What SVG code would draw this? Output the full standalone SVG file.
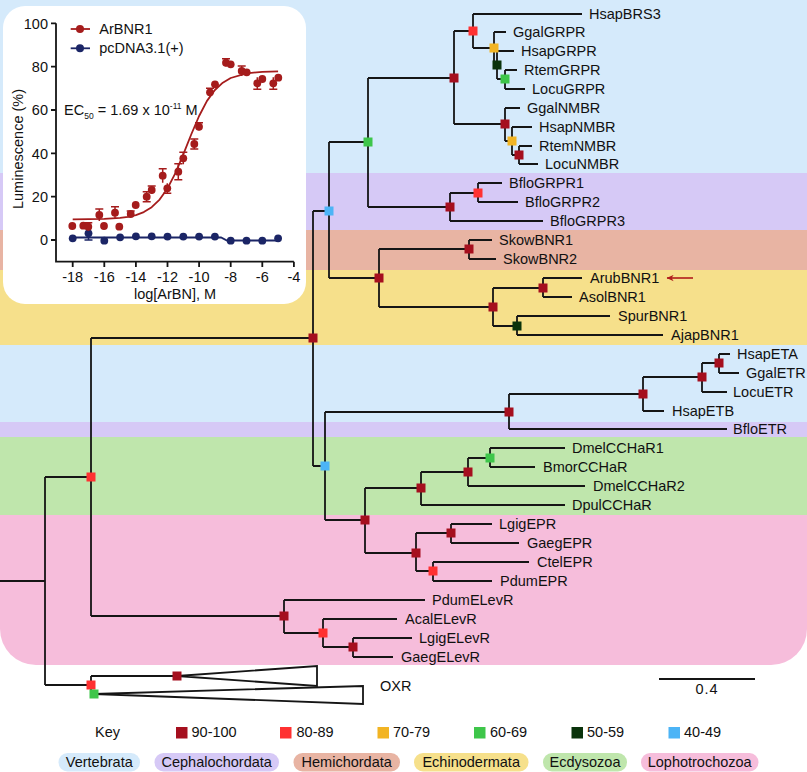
<svg xmlns="http://www.w3.org/2000/svg" width="807" height="772" viewBox="0 0 807 772">
<style>
text{font-family:"Liberation Sans",Arial,sans-serif;font-size:14.5px;fill:#111}
.br{fill:none;stroke:#151515;stroke-width:1.8}
.ax{fill:none;stroke:#151515;stroke-width:1.8}
.c90{fill:#a50f1e}.c80{fill:#ff3131}.c70{fill:#f2b423}.c60{fill:#3ec64a}.c50{fill:#0a330b}.c40{fill:#4cb4f6}
.rd{fill:#a51c1c}.bl{fill:#1b2566}
.eb{fill:none;stroke:#a51c1c;stroke-width:1.5}
.ebb{fill:none;stroke:#1b2566;stroke-width:1.5}
</style>
<defs>
<clipPath id="bgclip"><rect x="0" y="-40" width="807" height="705" rx="36"/></clipPath>
<marker id="ah" viewBox="0 0 10 10" refX="0.5" refY="5" markerWidth="10" markerHeight="7" orient="auto" markerUnits="userSpaceOnUse"><path d="M0 5 L10 0.5 L7 5 L10 9.5 Z" fill="#b01c1c"/></marker>
</defs>

<g id="bands" clip-path="url(#bgclip)">
<rect x="0" y="0" width="807" height="173" fill="#d5eafb"/>
<rect x="0" y="173" width="807" height="57" fill="#d6c9f6"/>
<rect x="0" y="230" width="807" height="40" fill="#e8b4a3"/>
<rect x="0" y="270" width="807" height="75" fill="#f6e08b"/>
<rect x="0" y="345" width="807" height="77" fill="#d5eafb"/>
<rect x="0" y="422" width="807" height="15" fill="#d6c9f6"/>
<rect x="0" y="437" width="807" height="78" fill="#bfe6ac"/>
<rect x="0" y="515" width="807" height="150" fill="#f6bddb"/>
</g>

<g id="inset">
<rect x="3" y="6" width="303" height="298" rx="22" fill="#ffffff"/>
<path class="ax" d="M56 23.3 V261.7 H293.9 M51 23.3 H56 M51 66.7 H56 M51 110 H56 M51 153.3 H56 M51 196.7 H56 M51 240 H56 M72.7 261.7 V267 M104.3 261.7 V267 M135.9 261.7 V267 M167.5 261.7 V267 M199.1 261.7 V267 M230.7 261.7 V267 M262.3 261.7 V267 M293.9 261.7 V267"/>
<g text-anchor="end">
<text x="48" y="28.5">100</text><text x="48" y="72">80</text><text x="48" y="115">60</text><text x="48" y="158.5">40</text><text x="48" y="202">20</text><text x="48" y="245">0</text>
</g>
<g text-anchor="middle">
<text x="72.7" y="282">-18</text><text x="104.3" y="282">-16</text><text x="135.9" y="282">-14</text><text x="167.5" y="282">-12</text><text x="199.1" y="282">-10</text><text x="230.7" y="282">-8</text><text x="262.3" y="282">-6</text><text x="293.9" y="282">-4</text>
<text x="175" y="299">log[ArBN], M</text>
<text transform="translate(22.5,149) rotate(-90)" font-size="13.5">Luminescence (%)</text>
</g>
<text x="64" y="115">EC<tspan font-size="8.5" dy="4">50</tspan><tspan dy="-4"> = 1.69 x 10</tspan><tspan font-size="8.5" dy="-6">-11</tspan><tspan dy="6"> M</tspan></text>
<path d="M70.7 29 H90" stroke="#a51c1c" stroke-width="1.8"/><circle class="rd" cx="80" cy="29" r="4"/>
<text x="99.3" y="34">ArBNR1</text>
<path d="M70.7 48.3 H90" stroke="#1b2566" stroke-width="1.8"/><circle class="bl" cx="80" cy="48.3" r="4"/>
<text x="99.3" y="53.3">pcDNA3.1(+)</text>
<g id="pcdna">
<path d="M72.7 237.5 H221 L227 240.5 H278.1" fill="none" stroke="#1b2566" stroke-width="1.8"/>
<path class="ebb" d="M88.5 227.5 V240 M84.5 240 H92.5"/>
<circle class="bl" cx="72.7" cy="238.3" r="3.9"/><circle class="bl" cx="88.5" cy="233.3" r="3.9"/><circle class="bl" cx="104.3" cy="240.7" r="3.9"/><circle class="bl" cx="120.1" cy="237.3" r="3.9"/><circle class="bl" cx="135.9" cy="236.3" r="3.9"/><circle class="bl" cx="151.7" cy="236.3" r="3.9"/><circle class="bl" cx="167.5" cy="236.6" r="3.9"/><circle class="bl" cx="183.3" cy="236.6" r="3.9"/><circle class="bl" cx="199.1" cy="236.6" r="3.9"/><circle class="bl" cx="214.9" cy="236.6" r="3.9"/><circle class="bl" cx="230.7" cy="240.7" r="3.9"/><circle class="bl" cx="246.5" cy="240.7" r="3.9"/><circle class="bl" cx="262.3" cy="240.7" r="3.9"/><circle class="bl" cx="278.1" cy="238.3" r="3.9"/>
</g>
<g id="arbnr1">
<path d="M72.7 219.4 L88.5 219.2 L104.3 218.9 L120.1 217.9 L128 216.8 L135.9 215.1 L143.8 212.1 L151.7 207.2 L159.6 199.6 L167.5 188.4 L175.4 173.1 L183.3 154.4 L191.2 134.5 L199.1 116 L207 100.9 L214.9 90 L222.8 82.7 L230.7 78 L246.5 73.4 L262.3 71.8 L278.1 71.3" fill="none" stroke="#a51c1c" stroke-width="1.8" stroke-linejoin="round"/>
<path class="eb" d="M99.3 209 V221 M95.3 209 H103.3 M115 206.7 V218.7 M111 206.7 H119 M130.7 211 V217 M126.7 211 H134.7 M135.7 202 V208 M146.7 191.7 V201.7 M142.7 191.7 H150.7 M142.7 201.7 H150.7 M151.7 186 V194 M147.7 186 H155.7 M162.7 168.7 V182.7 M158.7 168.7 H166.7 M167.3 183.3 V193.3 M163.3 193.3 H171.3 M178.3 163.7 V179.7 M174.3 163.7 H182.3 M174.3 179.7 H182.3 M183.3 152.3 V164.3 M179.3 152.3 H187.3 M194.3 139 V149 M190.3 139 H198.3 M190.3 149 H198.3 M199 122.7 V130.7 M195 122.7 H203 M210 88.3 V96.3 M206 88.3 H214 M215 81.3 V87.3 M226 58.7 V66.7 M222 58.7 H230 M230.7 61.3 V67.3 M241.7 66 V76 M237.7 66 H245.7 M246.7 69.3 V75.3 M257.3 77.3 V89.3 M253.3 89.3 H261.3 M262.3 76 V82 M273.3 77.3 V89.3 M269.3 89.3 H277.3 M278.3 74.7 V80.7 M83.3 222.7 V228.7 M88.3 222.7 V230.7 M84.3 222.7 H92.3"/>
<circle class="rd" cx="72.3" cy="226" r="3.9"/><circle class="rd" cx="83.3" cy="225.7" r="3.9"/><circle class="rd" cx="88.3" cy="226.7" r="3.9"/><circle class="rd" cx="99.3" cy="215" r="3.9"/><circle class="rd" cx="104" cy="226" r="3.9"/><circle class="rd" cx="115" cy="212.7" r="3.9"/><circle class="rd" cx="119.3" cy="226.7" r="3.9"/><circle class="rd" cx="130.7" cy="214" r="3.9"/><circle class="rd" cx="135.7" cy="205" r="3.9"/><circle class="rd" cx="146.7" cy="196.7" r="3.9"/><circle class="rd" cx="151.7" cy="190" r="3.9"/><circle class="rd" cx="162.7" cy="175.7" r="3.9"/><circle class="rd" cx="167.3" cy="188.3" r="3.9"/><circle class="rd" cx="178.3" cy="171.7" r="3.9"/><circle class="rd" cx="183.3" cy="158.3" r="3.9"/><circle class="rd" cx="194.3" cy="144" r="3.9"/><circle class="rd" cx="199" cy="126.7" r="3.9"/><circle class="rd" cx="210" cy="92.3" r="3.9"/><circle class="rd" cx="215" cy="84.3" r="3.9"/><circle class="rd" cx="226" cy="62.7" r="3.9"/><circle class="rd" cx="230.7" cy="64.3" r="3.9"/><circle class="rd" cx="241.7" cy="71" r="3.9"/><circle class="rd" cx="246.7" cy="72.3" r="3.9"/><circle class="rd" cx="257.3" cy="83.3" r="3.9"/><circle class="rd" cx="262.3" cy="79" r="3.9"/><circle class="rd" cx="273.3" cy="83.3" r="3.9"/><circle class="rd" cx="278.3" cy="77.7" r="3.9"/>
</g>
</g>

<g id="connectors" class="br">
<path d="M0 581 H45 M45 477 V685 M45 477 H91 M45 685 H91"/>
<path d="M91 338 V616 M91 338 H313 M91 616 H284"/>
<path d="M313 211 V466 M313 211 H329 M313 466 H325"/>
<path d="M329 142 V278 M329 142 H368 M329 278 H379"/>
<path d="M368 78 V207 M368 78 H454 M368 207 H450"/>
<path d="M454 31 V124 M454 31 H473 M454 124 H505"/>
<path d="M473 14 V48 M473 14 H582 M473 48 H494"/>
<path d="M494 32 V65 M494 32 H506 M494 65 H497"/>
<path d="M497 51 V79 M497 51 H514 M497 79 H505"/>
<path d="M505 70 V89 M505 70 H517 M505 89 H525"/>
<path d="M505 108 V141 M505 108 H520 M505 141 H512"/>
<path d="M512 127 V155 M512 127 H532 M512 155 H519"/>
<path d="M519 146 V164 M519 146 H532 M519 164 H538"/>
<path d="M450 193 V221 M450 193 H478 M450 221 H543"/>
<path d="M478 183 V202 M478 183 H502 M478 202 H518"/>
<path d="M379 249 V307 M379 249 H469 M379 307 H493"/>
<path d="M469 240 V259 M469 240 H492 M469 259 H496"/>
<path d="M493 288 V326 M493 288 H543 M493 326 H517"/>
<path d="M543 278 V297 M543 278 H582 M543 297 H572"/>
<path d="M517 316 V335 M517 316 H610 M517 335 H663"/>
<path d="M325 412 V520 M325 412 H509 M325 520 H365"/>
<path d="M509 394 V429 M509 394 H643 M509 429 H727"/>
<path d="M643 377 V411 M643 377 H702 M643 411 H664"/>
<path d="M702 363 V392 M702 363 H719 M702 392 H727"/>
<path d="M719 354 V373 M719 354 H730 M719 373 H739"/>
<path d="M365 488 V553 M365 488 H421 M365 553 H416"/>
<path d="M421 472 V505 M421 472 H468 M421 505 H565"/>
<path d="M468 458 V486 M468 458 H490 M468 486 H585"/>
<path d="M490 448 V467 M490 448 H565 M490 467 H535"/>
<path d="M416 533 V571 M416 533 H451 M416 571 H433"/>
<path d="M451 524 V543 M451 524 H492 M451 543 H519"/>
<path d="M433 562 V581 M433 562 H529 M433 581 H492"/>
<path d="M284 600 V633 M284 600 H425 M284 633 H323"/>
<path d="M323 619 V647 M323 619 H397 M323 647 H353"/>
<path d="M353 638 V657 M353 638 H412 M353 657 H393"/>
<path d="M91 676 V694 M91 676 H177 M91 694 H94"/>
<path d="M177 676 L317 666 V686 Z"/>
<path d="M94 694 L363 686 V704 Z"/>
<path d="M659 679 H755"/>
</g>
<g id="arrow"><path d="M667 278 H693" fill="none" stroke="#b01c1c" stroke-width="1.6" marker-start="url(#ah)"/></g>

<g id="nodes">
<g id="n-R2"><rect class="c80" x="86.5" y="472.5" width="9" height="9"/></g>
<g id="n-N313"><rect class="c90" x="308.5" y="333.5" width="9" height="9"/></g>
<g id="n-Blue1"><rect class="c40" x="324.5" y="206.5" width="9" height="9"/></g>
<g id="n-G60"><rect class="c60" x="363.5" y="137.5" width="9" height="9"/></g>
<g id="n-A"><rect class="c90" x="449.5" y="73.5" width="9" height="9"/></g>
<g id="n-R1"><rect class="c80" x="468.5" y="26.5" width="9" height="9"/></g>
<g id="n-Y"><rect class="c70" x="489.5" y="43.5" width="9" height="9"/></g>
<g id="n-DG"><rect class="c50" x="492.5" y="60.5" width="9" height="9"/></g>
<g id="n-G"><rect class="c60" x="500.5" y="74.5" width="9" height="9"/></g>
<g id="n-N1"><rect class="c90" x="500.5" y="119.5" width="9" height="9"/></g>
<g id="n-N2"><rect class="c70" x="507.5" y="136.5" width="9" height="9"/></g>
<g id="n-N3"><rect class="c90" x="514.5" y="150.5" width="9" height="9"/></g>
<g id="n-B1"><rect class="c90" x="445.5" y="202.5" width="9" height="9"/></g>
<g id="n-B2"><rect class="c80" x="473.5" y="188.5" width="9" height="9"/></g>
<g id="n-H"><rect class="c90" x="374.5" y="273.5" width="9" height="9"/></g>
<g id="n-Sk"><rect class="c90" x="464.5" y="244.5" width="9" height="9"/></g>
<g id="n-E1"><rect class="c90" x="488.5" y="302.5" width="9" height="9"/></g>
<g id="n-E2"><rect class="c90" x="538.5" y="283.5" width="9" height="9"/></g>
<g id="n-E3"><rect class="c50" x="512.5" y="321.5" width="9" height="9"/></g>
<g id="n-Blue2"><rect class="c40" x="320.5" y="461.5" width="9" height="9"/></g>
<g id="n-ET1"><rect class="c90" x="504.5" y="407.5" width="9" height="9"/></g>
<g id="n-ET2"><rect class="c90" x="638.5" y="389.5" width="9" height="9"/></g>
<g id="n-ET3"><rect class="c90" x="697.5" y="372.5" width="9" height="9"/></g>
<g id="n-ET4"><rect class="c90" x="714.5" y="358.5" width="9" height="9"/></g>
<g id="n-C0"><rect class="c90" x="360.5" y="515.5" width="9" height="9"/></g>
<g id="n-C1"><rect class="c90" x="416.5" y="483.5" width="9" height="9"/></g>
<g id="n-C2"><rect class="c90" x="463.5" y="467.5" width="9" height="9"/></g>
<g id="n-C3"><rect class="c60" x="485.5" y="453.5" width="9" height="9"/></g>
<g id="n-P1"><rect class="c90" x="411.5" y="548.5" width="9" height="9"/></g>
<g id="n-P2"><rect class="c90" x="446.5" y="528.5" width="9" height="9"/></g>
<g id="n-P3"><rect class="c80" x="428.5" y="566.5" width="9" height="9"/></g>
<g id="n-EL1"><rect class="c90" x="279.5" y="611.5" width="9" height="9"/></g>
<g id="n-EL2"><rect class="c80" x="318.5" y="628.5" width="9" height="9"/></g>
<g id="n-EL3"><rect class="c90" x="348.5" y="642.5" width="9" height="9"/></g>
<g id="n-OX"><rect class="c80" x="86.5" y="680.5" width="9" height="9"/></g>
<g id="n-O1"><rect class="c90" x="172.5" y="671.5" width="9" height="9"/></g>
<g id="n-O2"><rect class="c60" x="89.5" y="689.5" width="9" height="9"/></g>
</g>

<g id="leaves">
<g id="HsapBRS3"><text x="589" y="19">HsapBRS3</text></g>
<g id="GgalGRPR"><text x="513" y="37">GgalGRPR</text></g>
<g id="HsapGRPR"><text x="521" y="56">HsapGRPR</text></g>
<g id="RtemGRPR"><text x="524" y="75">RtemGRPR</text></g>
<g id="LocuGRPR"><text x="532" y="94">LocuGRPR</text></g>
<g id="GgalNMBR"><text x="527" y="113">GgalNMBR</text></g>
<g id="HsapNMBR"><text x="539" y="132">HsapNMBR</text></g>
<g id="RtemNMBR"><text x="539" y="151">RtemNMBR</text></g>
<g id="LocuNMBR"><text x="545" y="169">LocuNMBR</text></g>
<g id="BfloGRPR1"><text x="509" y="188">BfloGRPR1</text></g>
<g id="BfloGRPR2"><text x="525" y="207">BfloGRPR2</text></g>
<g id="BfloGRPR3"><text x="550" y="226">BfloGRPR3</text></g>
<g id="SkowBNR1"><text x="499" y="245">SkowBNR1</text></g>
<g id="SkowBNR2"><text x="503" y="264">SkowBNR2</text></g>
<g id="ArubBNR1"><text x="590" y="283">ArubBNR1</text></g>
<g id="AsolBNR1"><text x="579" y="302">AsolBNR1</text></g>
<g id="SpurBNR1"><text x="618" y="321">SpurBNR1</text></g>
<g id="AjapBNR1"><text x="671" y="340">AjapBNR1</text></g>
<g id="HsapETA"><text x="737" y="359">HsapETA</text></g>
<g id="GgalETR"><text x="746" y="378">GgalETR</text></g>
<g id="LocuETR"><text x="733" y="397">LocuETR</text></g>
<g id="HsapETB"><text x="672" y="416">HsapETB</text></g>
<g id="BfloETR"><text x="733" y="434">BfloETR</text></g>
<g id="DmelCCHaR1"><text x="572" y="453">DmelCCHaR1</text></g>
<g id="BmorCCHaR"><text x="543" y="472">BmorCCHaR</text></g>
<g id="DmelCCHaR2"><text x="593" y="491">DmelCCHaR2</text></g>
<g id="DpulCCHaR"><text x="572" y="510">DpulCCHaR</text></g>
<g id="LgigEPR"><text x="499" y="529">LgigEPR</text></g>
<g id="GaegEPR"><text x="527" y="548">GaegEPR</text></g>
<g id="CtelEPR"><text x="537" y="567">CtelEPR</text></g>
<g id="PdumEPR"><text x="500" y="586">PdumEPR</text></g>
<g id="PdumELevR"><text x="432" y="605">PdumELevR</text></g>
<g id="AcalELevR"><text x="405" y="624">AcalELevR</text></g>
<g id="LgigELevR"><text x="419" y="643">LgigELevR</text></g>
<g id="GaegELevR"><text x="401" y="662">GaegELevR</text></g>
<g id="OXR"><text x="380" y="691">OXR</text></g>
<g id="scale"><text x="707" y="694" text-anchor="middle" letter-spacing="1">0.4</text></g>
</g>

<g id="key">
<text x="95" y="737">Key</text>
<rect class="c90" x="176" y="727" width="11.5" height="11.5"/><text x="191.5" y="737">90-100</text>
<rect class="c80" x="280" y="727" width="11.5" height="11.5"/><text x="296.5" y="737">80-89</text>
<rect class="c70" x="377.5" y="727" width="11.5" height="11.5"/><text x="393" y="737">70-79</text>
<rect class="c60" x="474" y="727" width="11.5" height="11.5"/><text x="490" y="737">60-69</text>
<rect class="c50" x="571.5" y="727" width="11.5" height="11.5"/><text x="587" y="737">50-59</text>
<rect class="c40" x="668.5" y="727" width="11.5" height="11.5"/><text x="684" y="737">40-49</text>
</g>

<g id="legend" text-anchor="middle">
<rect x="58.5" y="753" width="81.5" height="18.5" rx="9" fill="#d5eafb"/><text x="99.3" y="767.3">Vertebrata</text>
<rect x="154.5" y="753" width="124.5" height="18.5" rx="9" fill="#d6c9f6"/><text x="216.7" y="767.3">Cephalochordata</text>
<rect x="293.5" y="753" width="106.5" height="18.5" rx="9" fill="#e8b4a3"/><text x="346.7" y="767.3">Hemichordata</text>
<rect x="414" y="753" width="114.5" height="18.5" rx="9" fill="#f6e08b"/><text x="471.2" y="767.3">Echinodermata</text>
<rect x="543" y="753" width="84" height="18.5" rx="9" fill="#bfe6ac"/><text x="585" y="767.3">Ecdysozoa</text>
<rect x="641" y="753" width="117.5" height="18.5" rx="9" fill="#f6bddb"/><text x="699.7" y="767.3">Lophotrochozoa</text>
</g>
</svg>
